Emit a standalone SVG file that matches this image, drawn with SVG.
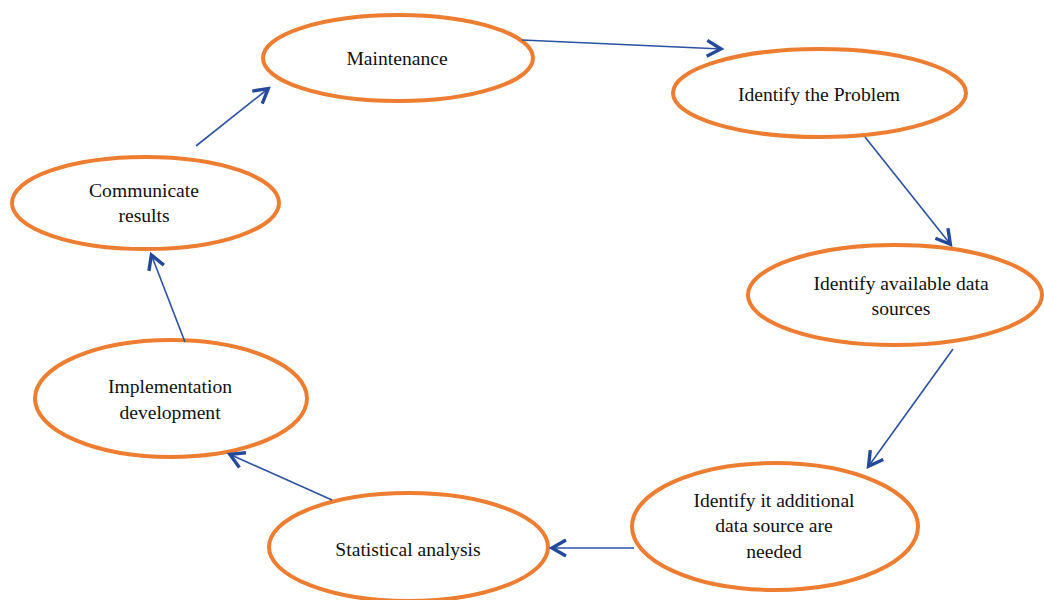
<svg xmlns="http://www.w3.org/2000/svg" width="1044" height="600" viewBox="0 0 1044 600">
  <defs>
    <style>
      .node ellipse { fill: #ffffff; stroke: #ED7D31; stroke-width: 4; }
      .node text { font-family: "Liberation Serif", "Times New Roman", serif; font-size: 19.6px; fill: #111111; text-anchor: middle; }
      .edge { fill: none; stroke: #2B52A0; stroke-width: 1.6; }
    </style>
    <marker id="arrow" markerUnits="userSpaceOnUse" markerWidth="30" markerHeight="30" viewBox="-20 -15 30 30" refX="1" refY="0" orient="auto">
      <path d="M -14 -8 L 0 0 L -14 8" fill="none" stroke="#24489A" stroke-width="3.4"/>
    </marker>
  </defs>
  <rect x="0" y="0" width="1044" height="600" fill="#ffffff"/>

  <g id="node-maintenance" class="node">
    <ellipse cx="398" cy="58" rx="135" ry="43"/>
    <text x="397" y="65">Maintenance</text>
  </g>
  <g id="node-identify-problem" class="node">
    <ellipse cx="819.5" cy="93" rx="146.5" ry="44"/>
    <text x="819" y="101">Identify the Problem</text>
  </g>
  <g id="node-available-sources" class="node">
    <ellipse cx="895" cy="295" rx="147" ry="50"/>
    <text x="901" y="290">Identify available data</text>
    <text x="901" y="315">sources</text>
  </g>
  <g id="node-additional-sources" class="node">
    <ellipse cx="775" cy="526.5" rx="143" ry="63.5"/>
    <text x="774" y="507">Identify it additional</text>
    <text x="774" y="532">data source are</text>
    <text x="774" y="558">needed</text>
  </g>
  <g id="node-statistical" class="node">
    <ellipse cx="408.5" cy="547" rx="139.5" ry="54"/>
    <text x="408" y="556">Statistical analysis</text>
  </g>
  <g id="node-implementation" class="node">
    <ellipse cx="171" cy="398.5" rx="136" ry="58.5"/>
    <text x="170" y="393">Implementation</text>
    <text x="170" y="419">development</text>
  </g>
  <g id="node-communicate" class="node">
    <ellipse cx="145.5" cy="203" rx="133.5" ry="46"/>
    <text x="144" y="197">Communicate</text>
    <text x="144" y="222">results</text>
  </g>

  <g id="connectors">
    <path class="edge" d="M 522 40 L 722 49" marker-end="url(#arrow)"/>
    <path class="edge" d="M 865 137 L 951 245" marker-end="url(#arrow)"/>
    <path class="edge" d="M 953 349 L 868 467" marker-end="url(#arrow)"/>
    <path class="edge" d="M 634 548 L 551 548" marker-end="url(#arrow)"/>
    <path class="edge" d="M 332 500 L 229 454" marker-end="url(#arrow)"/>
    <path class="edge" d="M 185 342 L 151 254" marker-end="url(#arrow)"/>
    <path class="edge" d="M 196 146 L 269 88" marker-end="url(#arrow)"/>
  </g>
</svg>
